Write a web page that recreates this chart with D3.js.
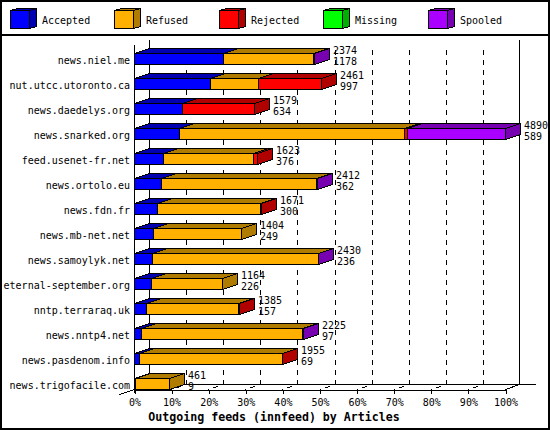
<!DOCTYPE html>
<html><head><meta charset="utf-8">
<script src="https://cdn.jsdelivr.net/npm/d3@7"></script>
<style>
body{margin:0;background:#fff}
text{font-family:"DejaVu Sans Mono",monospace;font-size:10px;fill:#000}
</style>
</head><body><svg id="c" width="550" height="430"></svg>
<script>
const hosts = ["news.niel.me","nut.utcc.utoronto.ca","news.daedelys.org","news.snarked.org","feed.usenet-fr.net","news.ortolo.eu","news.fdn.fr","news.mb-net.net","news.samoylyk.net","eternal-september.org","nntp.terraraq.uk","news.nntp4.net","news.pasdenom.info","news.trigofacile.com"];
const accepted = [1178, 997, 634, 589, 376, 362, 300, 249, 236, 226, 157, 97, 69, 9];
const refused  = [1185, 641, 0, 2974, 1196, 2042, 1361, 1155, 2189, 938, 1218, 2123, 1881, 452];
const rejected = [0, 823, 945, 40, 51, 0, 10, 0, 0, 0, 10, 0, 5, 0];
const missing  = [0, 0, 0, 0, 0, 0, 0, 0, 0, 0, 0, 0, 0, 0];
const spooled  = [11, 0, 0, 1287, 0, 8, 0, 0, 5, 0, 0, 5, 0, 0];
const totals   = [2374, 2461, 1579, 4890, 1623, 2412, 1671, 1404, 2430, 1164, 1385, 2225, 1955, 461];
const seriesNames = ["Accepted","Refused","Rejected","Missing","Spooled"];
const seriesColors = ["#0000FF","#FFB000","#FF0000","#00FF00","#AA00FF"];
const seriesDark   = ["#0000B0","#B07C00","#B00000","#00B000","#7700B0"];
const tickValues = [0,10,20,30,40,50,60,70,80,90,100];
const tickLabels = ["0%","10%","20%","30%","40%","50%","60%","70%","80%","90%","100%"];
const title = "Outgoing feeds (innfeed) by Articles";

const series = [accepted, refused, rejected, missing, spooled];
const DX = 15, DY = 5;

const svg = d3.select("#c").attr("shape-rendering","crispEdges");
svg.append("rect").attr("width",550).attr("height",430).attr("fill","#fff");
svg.append("rect").attr("x",1).attr("y",1).attr("width",548).attr("height",428)
  .attr("fill","none").attr("stroke","#000").attr("stroke-width",2);
svg.append("line").attr("x1",0).attr("x2",550).attr("y1",35).attr("y2",35)
  .attr("stroke","#000").attr("stroke-width",2);

// legend
seriesNames.forEach((n,k)=>{
  const bx = Math.floor(10 + k*104.5);
  const g = svg.append("g");
  const fx0 = bx+0.5, fx1 = bx+19.5, fy0 = 10.5, fy1 = 28.5, ldx = 7, ldy = 2;
  g.append("polygon").attr("points",[[fx1,fy0],[fx1+ldx,fy0-ldy],[fx1+ldx,fy1-ldy],[fx1,fy1]].join(" "))
    .attr("fill",seriesDark[k]).attr("stroke","#000");
  g.append("polygon").attr("points",[[fx0,fy0],[fx1,fy0],[fx1+ldx,fy0-ldy],[fx0+ldx,fy0-ldy]].join(" "))
    .attr("fill",seriesDark[k]).attr("stroke","#000");
  g.append("rect").attr("x",fx0).attr("y",fy0).attr("width",19).attr("height",18)
    .attr("fill",seriesColors[k]).attr("stroke","#000");
  g.append("text").attr("x",bx+32).attr("y",24).text(n);
});

const x = d3.scaleLinear().domain([0, d3.max(totals)]).range([134, 505]);
const xp = d3.scaleLinear().domain([0,100]).range([134, 505]);
const y = d3.scaleBand().domain(hosts).range([40, 390]);

// back plane edges
const L = svg.append("g").attr("stroke","#000").attr("fill","none");
L.append("line").attr("x1",149.5).attr("x2",149.5).attr("y1",40).attr("y2",384.5);
L.append("line").attr("x1",519.5).attr("x2",519.5).attr("y1",40).attr("y2",384.5);
L.append("line").attr("x1",149).attr("x2",536).attr("y1",384.5).attr("y2",384.5);
L.append("line").attr("x1",149.5).attr("y1",384.5).attr("x2",119.5).attr("y2",394.5);
L.append("line").attr("x1",505.5).attr("y1",389.5).attr("x2",519.5).attr("y2",384.5);

// dashed gridlines (back + floor)
tickValues.slice(1,-1).forEach(p=>{
  const xf = Math.round(xp(p)), xb = xf + DX;
  L.append("path").attr("d",`M${xb+0.5},50V384.5L${xf+0.5},389.5`).attr("stroke-dasharray","5,5");
});

// front axis
L.append("line").attr("x1",134.5).attr("x2",134.5).attr("y1",45).attr("y2",393);
const ax = svg.append("g").attr("transform","translate(0.5,389.5)")
  .call(d3.axisBottom(xp).tickValues(tickValues).tickFormat((d,i)=>tickLabels[i]).tickSize(4).tickSizeOuter(0));
ax.select(".domain").attr("stroke","#000");
ax.selectAll(".tick line").attr("stroke","#000");
ax.selectAll(".tick text").attr("y",16).attr("dy",null).attr("font-family","DejaVu Sans Mono").attr("font-size",10).attr("fill","#000");

// bars
hosts.forEach((h,i)=>{
  const T = y(h) + 13, B = T + 11;
  let cum = 0;
  const g = svg.append("g");
  series.forEach((arr,s)=>{
    const v = arr[i];
    if (!(v > 0)) return;
    const x0 = Math.round(x(cum)), x1 = Math.round(x(cum+v));
    cum += v;
    const a = x0+0.5, b = x1+0.5, t = T+0.5, bt = B+0.5;
    g.append("polygon").attr("points",[[b,t],[b+DX,t-DY],[b+DX,bt-DY],[b,bt]].join(" "))
      .attr("fill",seriesDark[s]).attr("stroke","#000");
    g.append("polygon").attr("points",[[a,t],[b,t],[b+DX,t-DY],[a+DX,t-DY]].join(" "))
      .attr("fill",seriesDark[s]).attr("stroke","#000");
    g.append("rect").attr("x",a).attr("y",t).attr("width",x1-x0).attr("height",B-T)
      .attr("fill",seriesColors[s]).attr("stroke","#000");
  });
  const xe = Math.round(x(totals[i])) + DX + 4;
  svg.append("text").attr("x",xe).attr("y",B-10).text(totals[i]);
  svg.append("text").attr("x",xe).attr("y",B+1).text(accepted[i]);
  svg.append("text").attr("x",130).attr("y",B).attr("text-anchor","end").text(h);
});

svg.append("text").attr("x",274).attr("y",421).attr("text-anchor","middle")
  .attr("font-weight","bold").style("font-size","11.6px").text(title);
</script>
</body></html>
